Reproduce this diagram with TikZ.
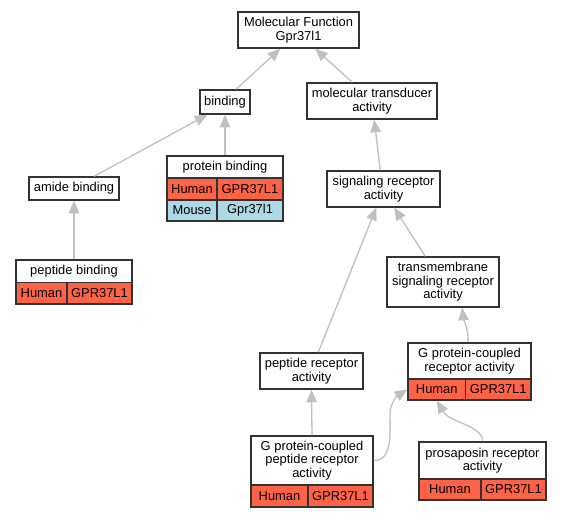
\documentclass[tikz,border=0pt]{standalone}
\usepackage{fontspec}
\setmainfont{Liberation Sans}
\usetikzlibrary{arrows.meta,calc}
\definecolor{human}{HTML}{FF6347}
\definecolor{mouse}{HTML}{ADD8E6}
\definecolor{edgec}{HTML}{C0C0C0}
\definecolor{boxc}{HTML}{333333}
\begin{document}
\begin{tikzpicture}[x=1pt,y=-1pt,
  box/.style={draw=boxc, line width=1.5pt, fill=white, inner sep=0pt, align=center,
    font=\fontsize{12.9}{13.4}\selectfont},
  cellh/.style={box, fill=human},
  cellm/.style={box, fill=mouse},
  edge/.style={draw=edgec, line width=1.3pt, -{Triangle[length=12.5pt,width=10.5pt]}}]
\useasboundingbox[fill=white] (0,0) rectangle (563,517);

% nodes
\node[box, minimum width=121pt, minimum height=36pt] (mf) at (298.5,30) {Molecular Function\\Gpr37l1};
\node[box, minimum width=50pt, minimum height=24pt] (bind) at (225,102) {binding};
\node[box, minimum width=130pt, minimum height=36pt] (mt) at (372,101) {molecular transducer\\activity};

\node[box, minimum width=116pt, minimum height=22pt] (pb) at (225,167) {protein binding};
\node[cellh, minimum width=50pt, minimum height=22pt] (pbh1) at (192,189) {Human};
\node[cellh, minimum width=66pt, minimum height=22pt] (pbh2) at (250,189) {GPR37L1};
\node[cellm, minimum width=50pt, minimum height=21pt] (pbm1) at (192,210.5) {Mouse};
\node[cellm, minimum width=66pt, minimum height=21pt] (pbm2) at (250,210.5) {Gpr37l1};

\node[box, minimum width=90pt, minimum height=23pt] (ab) at (74,188.5) {amide binding};
\node[box, minimum width=113pt, minimum height=36pt] (sr) at (383.5,189) {signaling receptor\\activity};

\node[box, minimum width=116pt, minimum height=22.5pt] (pepb) at (74,271.25) {peptide binding};
\node[cellh, minimum width=51pt, minimum height=21.5pt] (pepbh1) at (41.5,293.25) {Human};
\node[cellh, minimum width=65pt, minimum height=21.5pt] (pepbh2) at (99.5,293.25) {GPR37L1};

\node[box, minimum width=112pt, minimum height=50pt] (tm) at (443,282) {transmembrane\\signaling receptor\\activity};
\node[box, minimum width=103pt, minimum height=36pt] (pr) at (311.5,371) {peptide receptor\\activity};

\node[box, minimum width=123pt, minimum height=36pt] (gpcr) at (469.5,361) {G protein-coupled\\receptor activity};
\node[cellh, minimum width=57.5pt, minimum height=21pt] (gpcrh) at (436.75,389.5) {Human};
\node[cellh, minimum width=65.5pt, minimum height=21pt] (gpcrg) at (498.25,389.5) {GPR37L1};

\node[box, minimum width=122pt, minimum height=49pt] (gpp) at (312,460.5) {G protein-coupled\\peptide receptor\\activity};
\node[cellh, minimum width=57pt, minimum height=22pt] (gpph) at (279.5,496) {Human};
\node[cellh, minimum width=65pt, minimum height=22pt] (gppg) at (340.5,496) {GPR37L1};

\node[box, minimum width=127pt, minimum height=37pt] (pros) at (482.5,460.5) {prosaposin receptor\\activity};
\node[cellh, minimum width=62pt, minimum height=21pt] (prosh) at (450,489.5) {Human};
\node[cellh, minimum width=65pt, minimum height=21pt] (prosg) at (513.5,489.5) {GPR37L1};

\coordinate (k1) at (390,413);

% edges
\draw[edge] ($(bind.north west)+(37,0)$) -- ($(mf.south west)+(43,0)$);
\draw[edge] ($(mt.north west)+(46,0)$) -- ($(mf.south west)+(78,0)$);
\draw[edge] ($(ab.north west)+(66,0)$) -- ($(bind.south west)+(8,0)$);
\draw[edge] (pb.north) -- (bind.south);
\draw[edge] (pepb.north) -- (ab.south);
\draw[edge] ($(sr.north west)+(54,0)$) -- ($(mt.south west)+(68,0)$);
\draw[edge] ($(tm.north west)+(39,0)$) -- ($(sr.south west)+(68,0)$);
\draw[edge] ($(pr.north west)+(59,0)$) -- ($(sr.south west)+(50,0)$);
\draw[edge] ($(gpcr.north west)+(61,0)$) .. controls +(0,-14) and +(1,10) .. ($(tm.south west)+(76,0)$);
\draw[edge] (gpp.north) -- (pr.south);
\draw[edge] (gpp.east) .. controls +(19,0) and +(0,20) .. (k1) .. controls +(0,-8) and +(-11,7) .. (gpcrh.west);
\draw[edge] (pros.north) .. controls +(0,-16) and +(13,22) .. (gpcrh.south);
\end{tikzpicture}
\end{document}
